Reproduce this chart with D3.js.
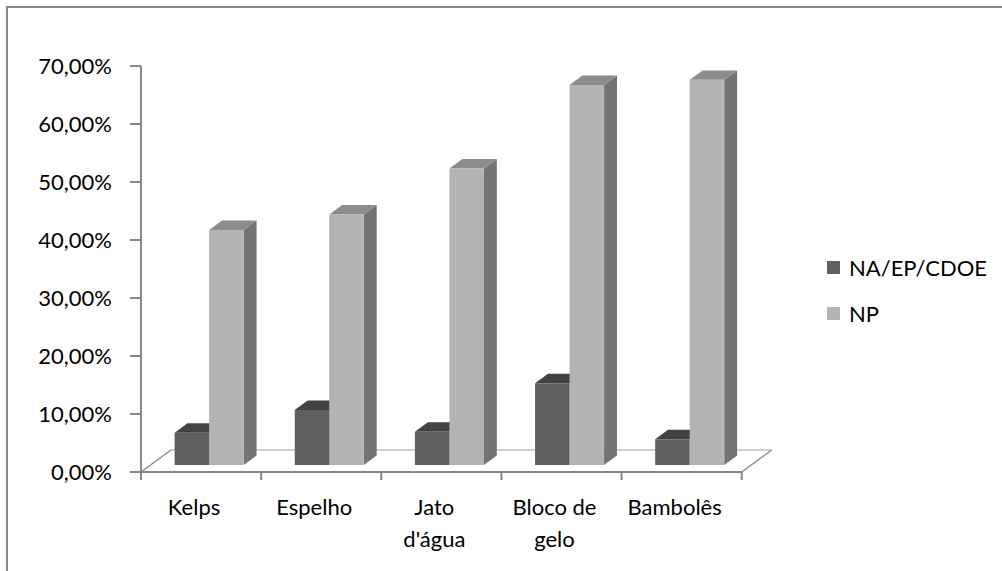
<!DOCTYPE html>
<html>
<head>
<meta charset="utf-8">
<script src="https://cdn.jsdelivr.net/npm/d3@7"></script>
<style>
  body { margin: 0; background: #fff; }
  text { font-family: Lato, "Open Sans", sans-serif; }
</style>
</head>
<body>
<div id="chart"></div>
<script>
const categories = ["Kelps", "Espelho", "Jato d'água", "Bloco de gelo", "Bambolês"];
const categoryLines = [["Kelps"], ["Espelho"], ["Jato", "d'água"], ["Bloco de", "gelo"], ["Bambolês"]];
const seriesNames = ["NA/EP/CDOE", "NP"];
const naValues = [0.0557, 0.0948, 0.0574, 0.1408, 0.0443];
const npValues = [0.405, 0.432, 0.511, 0.655, 0.664];
const yTicks = [0, 0.1, 0.2, 0.3, 0.4, 0.5, 0.6, 0.7];

const W = 1002, H = 571;
const svg = d3.select("#chart").append("svg")
    .attr("width", W)
    .attr("height", H);

// outer frame (only top and left visible in the crop)
svg.append("path")
    .attr("d", `M7,${H} V7 H${W}`)
    .attr("fill", "none")
    .attr("stroke", "#878787")
    .attr("stroke-width", 2);

const ptBR = d3.formatLocale({ decimal: ",", thousands: ".", grouping: [3], currency: ["", ""] });
const fmt = ptBR.format(".2%");

const x = d3.scaleBand().domain(categories).range([141, 741.7]);
const xs = d3.scaleBand().domain(seriesNames).range([0, x.bandwidth()]).paddingOuter(0.74).align(0.47);
const y = d3.scaleLinear().domain([0, 0.7]).range([472, 66]);

// depth of the 3d floor
const DX = 30, DY = 22;
const z0 = 0.32, z1 = 0.75;
const proj = (px, py, z) => [px + z * DX, py - z * DY];

const colors = {
    "NA/EP/CDOE": { front: "#5f5f5f", top: "#434343", side: "#4c4c4c" },
    "NP": { front: "#b3b3b3", top: "#8c8c8c", side: "#747474" }
};

// floor
const x0 = x.range()[0], x1 = x.range()[1];
svg.append("line")
    .attr("x1", proj(x0, y(0), 1)[0]).attr("y1", proj(x0, y(0), 1)[1])
    .attr("x2", proj(x1, y(0), 1)[0]).attr("y2", proj(x1, y(0), 1)[1])
    .attr("stroke", "#cfcfcf").attr("stroke-width", 2);
[x0, x1].forEach(function(px) {
    svg.append("line")
        .attr("x1", px).attr("y1", y(0))
        .attr("x2", proj(px, y(0), 1)[0]).attr("y2", proj(px, y(0), 1)[1])
        .attr("stroke", "#8e8e8e").attr("stroke-width", 1.5);
});

// bars
const poly = pts => "M" + pts.map(p => p.join(",")).join("L") + "Z";
categories.forEach(function(c, i) {
    const vals = [naValues[i], npValues[i]];
    seriesNames.forEach(function(s, j) {
        const bx = x(c) + xs(s);
        const bw = xs.bandwidth();
        const yt = y(vals[j]), yb = y(0);
        const col = colors[s];
        const g = svg.append("g");
        g.append("path")
            .attr("d", poly([proj(bx + bw, yb, z0), proj(bx + bw, yt, z0), proj(bx + bw, yt, z1), proj(bx + bw, yb, z1)]))
            .attr("fill", col.side);
        g.append("path")
            .attr("d", poly([proj(bx, yt, z0), proj(bx + bw, yt, z0), proj(bx + bw, yt, z1), proj(bx, yt, z1)]))
            .attr("fill", col.top);
        g.append("path")
            .attr("d", poly([proj(bx, yb, z0), proj(bx, yt, z0), proj(bx + bw, yt, z0), proj(bx + bw, yb, z0)]))
            .attr("fill", col.front);
    });
});

// y axis
const yAxis = svg.append("g");
yAxis.append("line")
    .attr("x1", x0).attr("x2", x0)
    .attr("y1", y(0.7)).attr("y2", y(0))
    .attr("stroke", "#878787").attr("stroke-width", 2);
yAxis.selectAll(".tick").data(yTicks).join("line")
    .attr("x1", x0 - 11).attr("x2", x0)
    .attr("y1", d => y(d)).attr("y2", d => y(d))
    .attr("stroke", "#878787").attr("stroke-width", 2);
yAxis.selectAll(".lbl").data(yTicks).join("text")
    .attr("x", 112)
    .attr("y", d => y(d))
    .attr("dy", "0.35em")
    .attr("text-anchor", "end")
    .attr("font-size", "22px")
    .attr("fill", "#000")
    .text(d => fmt(d));

// x axis
const xAxis = svg.append("g");
xAxis.append("line")
    .attr("x1", x0).attr("x2", x1)
    .attr("y1", y(0)).attr("y2", y(0))
    .attr("stroke", "#878787").attr("stroke-width", 2);
const bounds = categories.map(c => x(c)).concat([x1]);
xAxis.selectAll(".tick").data(bounds).join("line")
    .attr("x1", d => d).attr("x2", d => d)
    .attr("y1", y(0)).attr("y2", y(0) + 8)
    .attr("stroke", "#878787").attr("stroke-width", 2);
categories.forEach(function(c, i) {
    const t = xAxis.append("text")
        .attr("x", x(c) + x.bandwidth() / 2 - 7)
        .attr("y", 515)
        .attr("text-anchor", "middle")
        .attr("font-size", "22px")
        .attr("fill", "#000");
    categoryLines[i].forEach(function(line, k) {
        t.append("tspan")
            .attr("x", x(c) + x.bandwidth() / 2 - 7)
            .attr("dy", k === 0 ? 0 : 32)
            .text(line);
    });
});

// legend
const legend = svg.append("g");
seriesNames.forEach(function(s, i) {
    const ly = 268 + i * 46;
    legend.append("rect")
        .attr("x", 827).attr("y", ly - 7)
        .attr("width", 13).attr("height", 13)
        .attr("fill", colors[s].front);
    legend.append("text")
        .attr("x", 849).attr("y", ly)
        .attr("dy", "0.35em")
        .attr("font-size", "22px")
        .attr("fill", "#000")
        .text(s);
});
</script>
</body>
</html>
